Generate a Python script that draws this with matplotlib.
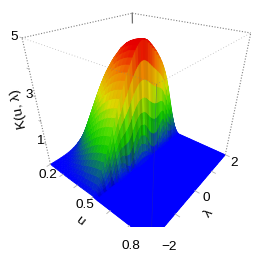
import numpy as np
import matplotlib
matplotlib.use("Agg")
import matplotlib.pyplot as plt
from matplotlib.colors import LinearSegmentedColormap

plt.rcParams["font.family"] = ["Liberation Sans", "DejaVu Sans"]

# lambda positions and height of the ridge (at u = 0.5)
lam = [-2.0, -1.9, -1.8, -1.7, -1.6, -1.5, -1.4, -1.3, -1.2, -1.1, -1.0, -0.9, -0.8, -0.7,
       -0.6, -0.5, -0.4, -0.3, -0.2, -0.1, 0.0, 0.1, 0.2, 0.3, 0.4, 0.5, 0.6, 0.7,
       0.8, 0.9, 1.0, 1.1, 1.2, 1.3, 1.4, 1.5, 1.6, 1.7, 1.8, 1.9, 2.0]
ridge = [0.05, 0.2, 0.4, 0.62, 0.88, 1.15, 1.42, 1.7, 2.0, 2.3, 2.6, 2.9, 3.2, 3.48,
         3.74, 3.98, 4.2, 4.4, 4.58, 4.72, 4.82, 4.86, 4.84, 4.78, 4.68, 4.56, 4.43, 4.3,
         4.14, 3.97, 3.78, 3.56, 3.3, 2.98, 2.62, 2.2, 1.78, 1.36, 0.98, 0.62, 0.3]

# smooth side, u < 0.5: share of the ridge height and how narrow the bump gets
u_left = [0.2, 0.22, 0.24, 0.26, 0.28, 0.3, 0.32, 0.34, 0.36, 0.38, 0.4, 0.42, 0.44, 0.46, 0.48, 0.5]
peak_left = [0.22, 0.32, 0.43, 0.53, 0.61, 0.68, 0.74, 0.79, 0.84, 0.88, 0.92, 0.95, 0.97, 0.985, 0.995, 1.0]
narrow_left = [3.0, 2.6, 2.3, 2.05, 1.85, 1.7, 1.55, 1.45, 1.35, 1.27, 1.2, 1.15, 1.1, 1.06, 1.03, 1.0]

# steep side just past u = 0.5, with ripples along lambda
u_cliff = [0.503, 0.506, 0.509, 0.512, 0.515, 0.518, 0.521, 0.524, 0.527, 0.53]
frac_cliff = [0.86, 0.72, 0.58, 0.46, 0.35, 0.25, 0.17, 0.1, 0.05, 0.0]
wave_row = [0.08, 0.15, 0.25, 0.4, 0.6, 0.8, 0.8, 0.5, 0.2, 0.0]
streak_row = [0.2, 0.4, 0.6, 0.8, 1.0, 1.0, 0.7, 0.3, 0.0, 0.0]
wave = [0, -0.1, -0.2, -0.4, -0.6, -0.8, -0.85, -0.7, -0.4, -0.1, 0.1, 0, -0.3, -0.6,
        -0.8, -0.7, -0.4, -0.1, 0.1, 0.2, 0.1, 0, -0.2, -0.5, -0.8, -0.95, -1.0, -0.9,
        -0.6, -0.2, 0.1, 0.2, -0.1, -0.4, -0.6, -0.5, -0.3, -0.1, 0, 0, 0]
streak = [1, 0.85, 0.95, 0.8, 1, 0.9, 0.78, 0.95, 0.85, 1, 0.8, 0.92, 0.76, 1, 0.88,
          0.74, 0.96, 0.82, 0.9, 0.76, 1, 0.86, 0.8, 0.96, 0.84, 0.9, 1, 0.86, 0.94,
          1, 0.9, 0.98, 0.88, 1, 0.92, 0.86, 1, 0.94, 1, 1, 1]

u_floor = [0.55, 0.6, 0.65, 0.7, 0.75, 0.8]

u_ticks = [0.2, 0.3, 0.4, 0.5, 0.6, 0.7, 0.8]
lam_ticks = [-2, -1, 0, 1, 2]
z_ticks = [1, 2, 3, 4, 5]

lam_arr = np.array(lam)
ridge_arr = np.array(ridge)
rows = []
for share, power in zip(peak_left, narrow_left):
    rows.append(4.86 * share * (ridge_arr / 4.86) ** power)
for frac, w in zip(frac_cliff, wave_row):
    rows.append(np.maximum(ridge_arr * frac + np.array(wave) * w, 0))
for _ in u_floor:
    rows.append(np.zeros(len(lam)))
zz = np.array(rows)
uu = np.array(u_left + u_cliff + u_floor)
U, L = np.meshgrid(uu, lam_arr, indexing="ij")

cmap = LinearSegmentedColormap.from_list("kmap", [
    (0.0, "#0000ff"), (0.3, "#10c800"), (0.42, "#50dc00"), (0.58, "#dcdc00"),
    (0.78, "#f08000"), (0.93, "#e80000"), (1.0, "#e00000")])
zmean = (zz[:-1, :-1] + zz[1:, :-1] + zz[:-1, 1:] + zz[1:, 1:]) / 4
face = np.ones(zz.shape + (4,))
face[:-1, :-1] = cmap(zmean / 5)
first = len(u_left) - 1
for r, strength in enumerate(streak_row):
    for c, s in enumerate(streak[:-1]):
        face[first + r, c, :3] *= 1 - (1 - s) * strength

fig = plt.figure(figsize=(2.62, 2.62), dpi=100)
ax = fig.add_axes([0.0707, 0.1336, 0.902, 0.902], projection="3d", computed_zorder=False)
ax.set_xlim(0.2, 0.8)
ax.set_ylim(-2, 2)
ax.set_zlim(0, 5)
ax.view_init(29.9, -49.92)
ax.set_proj_type("persp", focal_length=0.206)
ax.set_box_aspect((1.011, 1, 1.006))
ax.set_axis_off()
ax.patch.set_alpha(0)

# plain blue floor under the surface so no seams show through
ax.plot_surface(np.array([[0.5, 0.5], [0.8, 0.8]]), np.array([[-2, 2], [-2, 2]]),
                np.zeros((2, 2)), color="#0000ff", shade=False, linewidth=0, zorder=0)
ax.plot_surface(U, L, zz, facecolors=face, rstride=1, cstride=1, shade=False,
                linewidth=0.5, antialiased=True, zorder=1)

# box outline
dots = dict(color="#808080", lw=0.8, ls=(0, (1, 1.5)), zorder=3)
faint = dict(color="#808080", lw=0.6, ls=(0, (1, 2.5)), alpha=0.55, zorder=3)
ax.plot([0.2, 0.2], [-2, 2], [5, 5], **dots)
ax.plot([0.2, 0.8], [2, 2], [5, 5], **dots)
ax.plot([0.2, 0.8], [-2, -2], [5, 5], **faint)
ax.plot([0.8, 0.8], [-2, 2], [5, 5], **faint)
ax.plot([0.2, 0.2], [-2, -2], [0, 5], **dots)
ax.plot([0.8, 0.8], [2, 2], [0, 5], **dots)
ax.plot([0.8, 0.8], [-2, -2], [0, 5], color="#303090", lw=0.4, alpha=0.5, zorder=3)
ax.plot([0.2, 0.2], [2, 2], [4.6, 5], color="#707070", lw=0.9, zorder=3)

# ticks
for t in u_ticks:
    ax.plot([t, t], [-2, -2.12], [0, 0], color="#b0b0b0", lw=0.6, zorder=3)
for t in lam_ticks:
    ax.plot([0.8, 0.82], [t, t], [0, 0], color="#b0b0b0", lw=0.6, zorder=3)
for t in z_ticks:
    ax.plot([0.2, 0.185], [-2, -2], [t, t], color="#b0b0b0", lw=0.6, zorder=3)


def label(x, y, s, **kw):
    fig.text(x / 262, 1 - y / 262, s, ha="center", va="center", color="black",
             fontsize=kw.pop("fontsize", 9.7), **kw)


label(14, 37, "5")
label(29, 95, "3")
label(40, 141, "1")
label(48, 175, "0.2")
label(85, 205, "0.5")
label(131, 246, "0.8")
label(169, 247, "\u22122")
label(206, 198, "0")
label(234, 163, "2")
label(19, 109, "K(u, \u03bb)", rotation=102)
label(80, 221, "u", rotation=-38)
label(209, 213, "\u03bb", rotation=50)

fig.savefig("out.png", dpi=100)
